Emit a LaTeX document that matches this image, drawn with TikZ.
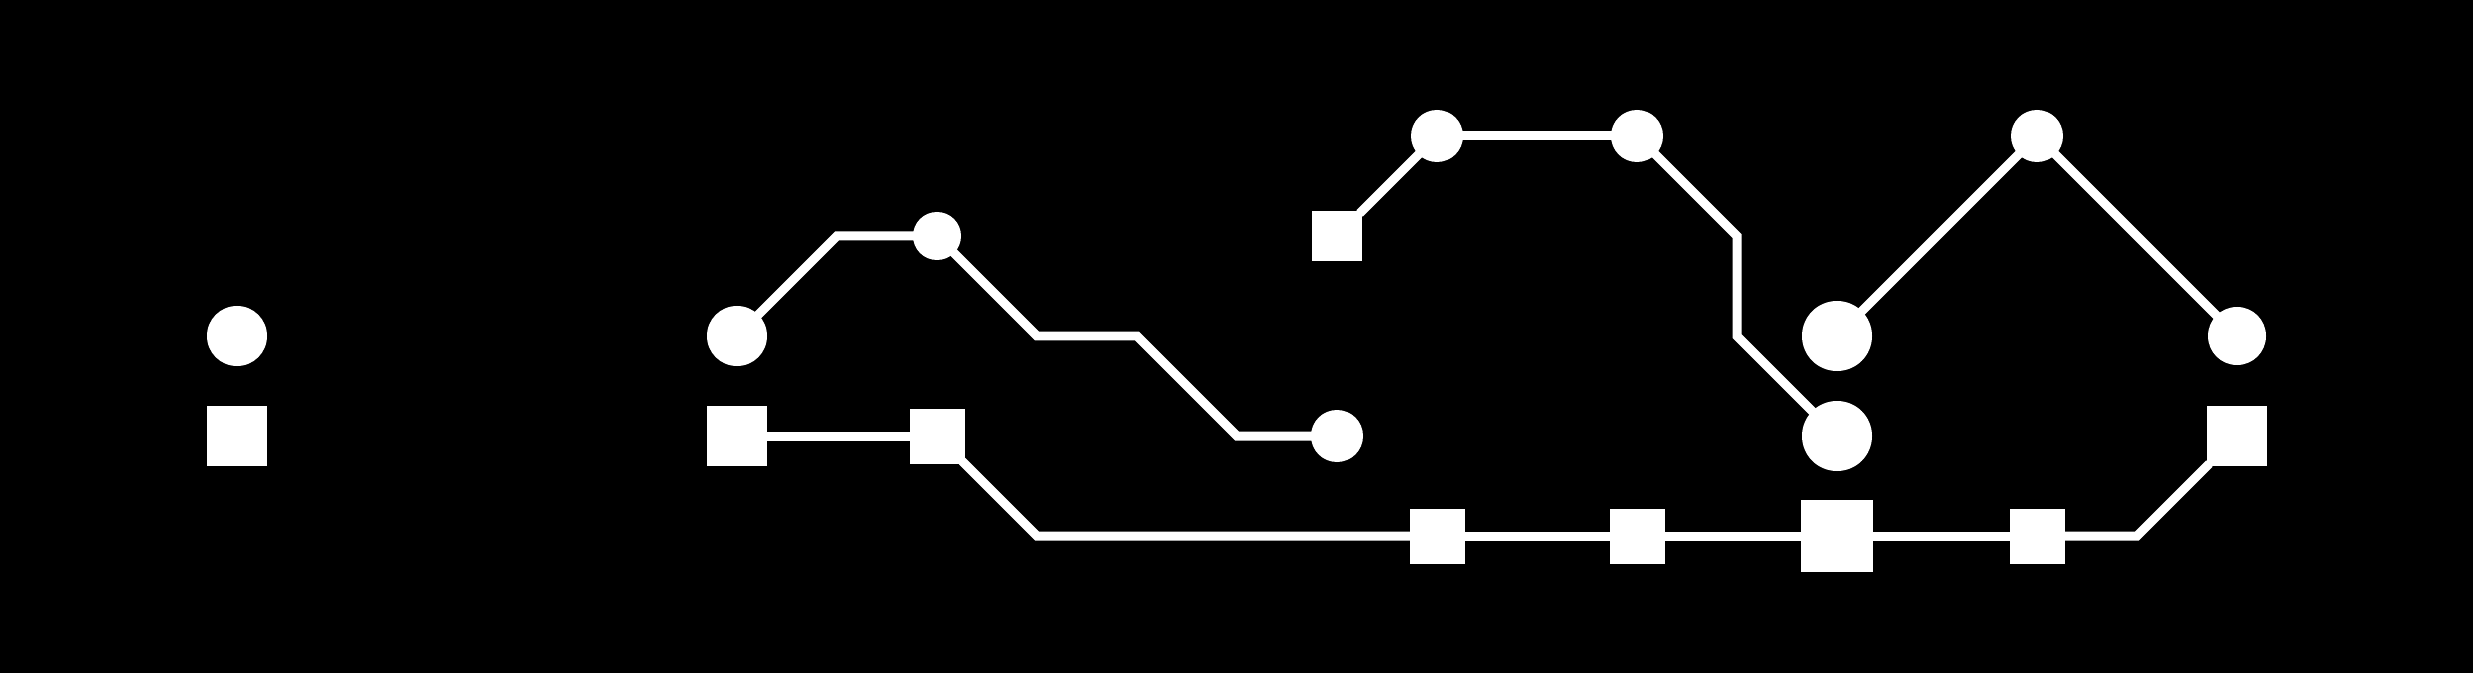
\documentclass[tikz,border=0pt]{standalone}
\begin{document}
\begin{tikzpicture}[x=1cm,y=1cm]
\tikzset{
  roundnode/.style={circle,fill=white,inner sep=0pt,minimum size=#1},
  squarenode/.style={rectangle,fill=white,inner sep=0pt,minimum size=#1},
  link/.style={white,line width=0.09cm,line cap=rect}}
\fill[black] (-0.37,0.36) rectangle (24.36,-6.37);
\useasboundingbox (-0.37,0.36) rectangle (24.36,-6.37);
% nodes
\node[roundnode=0.6cm] (c1) at (2,-3) {};
\node[squarenode=0.6cm] (s1) at (2,-4) {};
\node[roundnode=0.6cm] (c2) at (7,-3) {};
\node[squarenode=0.6cm] (s2) at (7,-4) {};
\node[roundnode=0.48cm] (c3) at (9,-2) {};
\node[squarenode=0.55cm] (s3) at (9,-4) {};
\node[roundnode=0.52cm] (c4) at (13,-4) {};
\node[squarenode=0.5cm] (s4) at (13,-2) {};
\node[roundnode=0.52cm] (c5) at (14,-1) {};
\node[roundnode=0.52cm] (c6) at (16,-1) {};
\node[roundnode=0.52cm] (c7) at (20,-1) {};
\node[roundnode=0.7cm] (c8) at (18,-3) {};
\node[roundnode=0.7cm] (c9) at (18,-4) {};
\node[roundnode=0.58cm] (c10) at (22,-3) {};
\node[squarenode=0.6cm] (s5) at (22,-4) {};
\node[squarenode=0.55cm] (b1) at (14,-5) {};
\node[squarenode=0.55cm] (b2) at (16,-5) {};
\node[squarenode=0.72cm] (b3) at (18,-5) {};
\node[squarenode=0.55cm] (b4) at (20,-5) {};
% corner points
\coordinate (p1) at (8,-2);
\coordinate (p2) at (10,-3);
\coordinate (p3) at (11,-3);
\coordinate (p4) at (12,-4);
\coordinate (p5) at (10,-5);
\coordinate (p6) at (21,-5);
\coordinate (p7) at (17,-2);
\coordinate (p8) at (17,-3);
% connectors
\draw[link] (c2) -- (p1) -- (c3);
\draw[link] (c3) -- (p2) -- (p3) -- (p4) -- (c4);
\draw[link] (s2) -- (s3);
\draw[link] (s3) -- (p5) -- (b1);
\draw[link] (b1) -- (b2);
\draw[link] (b2) -- (b3);
\draw[link] (b3) -- (b4);
\draw[link] (b4) -- (p6) -- (s5);
\draw[link] (s4) -- (c5);
\draw[link] (c5) -- (c6);
\draw[link] (c6) -- (p7) -- (p8) -- (c9);
\draw[link] (c8) -- (c7) -- (c10);
\end{tikzpicture}
\end{document}
